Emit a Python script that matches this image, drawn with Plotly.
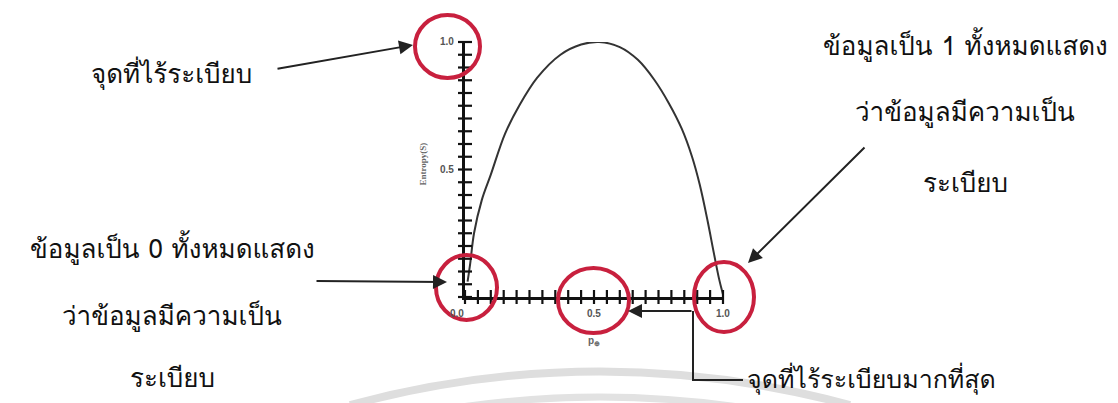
import plotly.graph_objects as go

W, H = 1118, 403

# ---- data ----
p_pos = [0.01, 0.02, 0.035, 0.065, 0.10, 0.155, 0.21, 0.28, 0.37, 0.45, 0.52,
         0.60, 0.67, 0.735, 0.79, 0.84, 0.88, 0.91, 0.94, 0.965, 0.985, 1.0]
entropy = [0.06, 0.13, 0.25, 0.38, 0.48, 0.64, 0.75, 0.86, 0.95, 0.99, 1.0,
           0.98, 0.93, 0.85, 0.76, 0.66, 0.55, 0.44, 0.30, 0.17, 0.07, 0.01]
tick_vals = [0.0, 0.05, 0.1, 0.15, 0.2, 0.25, 0.3, 0.35, 0.4, 0.45, 0.5,
             0.55, 0.6, 0.65, 0.7, 0.75, 0.8, 0.85, 0.9, 0.95, 1.0]
x_tick_labels = ["0.0", "0.5", "1.0"]
y_tick_labels = ["0.5", "1.0"]
x_title = "p<sub>⊕</sub>"
y_title = "Entropy(S)"

label_top_left = "จุดที่ไร้ระเบียบ"
label_right = ["ข้อมูลเป็น 1 ทั้งหมดแสดง", "ว่าข้อมูลมีความเป็น", "ระเบียบ"]
label_left = ["ข้อมูลเป็น 0 ทั้งหมดแสดง", "ว่าข้อมูลมีความเป็น", "ระเบียบ"]
label_bottom = "จุดที่ไร้ระเบียบมากที่สุด"


def px(x):
    return x / W


def py(y):
    return 1 - y / H


THAI = "Norasi, Kinnari, 'TH Sarabun New', Garuda, Loma, 'Noto Serif Thai', 'Noto Sans Thai', 'DejaVu Serif', serif"
RED = "rgb(200,32,62)"
INK = "#222222"

fig = go.Figure()

fig.add_trace(go.Scatter(x=p_pos, y=entropy, mode="lines", line_shape="spline",
                         line=dict(color="#333333", width=2), hoverinfo="skip"))
fig.add_trace(go.Scatter(x=tick_vals, y=[0] * len(tick_vals), mode="markers",
                         marker=dict(symbol="line-ns", size=10, line=dict(width=2.2, color="#111")),
                         cliponaxis=False, hoverinfo="skip"))
fig.add_trace(go.Scatter(x=[0] * len(tick_vals), y=tick_vals, mode="markers",
                         marker=dict(symbol="line-ew", size=10, line=dict(width=2.2, color="#111")),
                         cliponaxis=False, hoverinfo="skip"))

ann = []
# axis tick labels
for v, t in zip([0.0, 0.5, 1.0], x_tick_labels):
    ann.append(dict(x=v, y=0, xref="x", yref="y", text="<b>" + t + "</b>", showarrow=False,
                    yshift=-16, xshift=-8 if v == 0 else 0,
                    font=dict(family="Liberation Sans", size=10, color="#555")))
for v, t in zip([0.5, 1.0], y_tick_labels):
    ann.append(dict(x=0, y=v, xref="x", yref="y", text="<b>" + t + "</b>", showarrow=False,
                    xshift=-18, font=dict(family="Liberation Sans", size=10, color="#555")))
ann.append(dict(x=0.5, y=0, xref="x", yref="y", text="<b>" + x_title + "</b>", showarrow=False,
                yshift=-44, font=dict(family="Liberation Sans", size=10, color="#666")))
ann.append(dict(x=0, y=0.5, xref="x", yref="y", text="<b>" + y_title + "</b>", showarrow=False,
                xshift=-43, yshift=5, textangle=-90,
                font=dict(family="Liberation Serif", size=9, color="#666")))

# Thai labels
def thai(x, y, text, size=26):
    ann.append(dict(x=px(x), y=py(y), xref="paper", yref="paper", text=text, showarrow=False,
                    xanchor="center", yanchor="middle",
                    font=dict(family=THAI, size=size, color="#111")))

thai(171, 74, label_top_left)
for yy, t in zip([45, 112, 183], label_right):
    thai(965, yy, t)
for yy, t in zip([248, 315, 377], label_left):
    thai(172, yy, t)
ann.append(dict(x=px(745), y=py(379), xref="paper", yref="paper", text=label_bottom,
                showarrow=False, xanchor="left", yanchor="middle",
                font=dict(family=THAI, size=25, color="#111")))

# arrows (tip, tail) in pixels
arrows = [((413, 45), (276, 69)), ((447, 282), (315, 281)),
          ((748, 263), (866, 146)), ((628, 311), (693, 311))]
for (tx, ty), (sx, sy) in arrows:
    ann.append(dict(x=px(tx), y=py(ty), xref="paper", yref="paper", text="",
                    showarrow=True, ax=sx - tx, ay=sy - ty, axref="pixel", ayref="pixel",
                    arrowhead=2, arrowsize=1.4, arrowwidth=2, arrowcolor=INK, standoff=0))

shapes = []
# watermark arcs
shapes.append(dict(type="path", xref="paper", yref="paper",
                   path=f"M {px(350)} {py(405)} Q {px(600)} {py(338)} {px(850)} {py(405)}",
                   line=dict(color="rgb(222,222,222)", width=8)))
shapes.append(dict(type="path", xref="paper", yref="paper",
                   path=f"M {px(430)} {py(412)} Q {px(600)} {py(382)} {px(770)} {py(412)}",
                   line=dict(color="rgb(226,226,226)", width=7)))
# elbow connector
shapes.append(dict(type="path", xref="paper", yref="paper",
                   path=f"M {px(693)} {py(311)} L {px(693)} {py(380)} L {px(743)} {py(380)}",
                   line=dict(color=INK, width=2)))
# red circles (pixel boxes)
for x0, x1, y0, y1 in [(415, 480, 15, 78), (436, 497, 255, 320),
                       (558, 629, 268, 333), (694, 754, 262, 332)]:
    shapes.append(dict(type="circle", xref="paper", yref="paper",
                       x0=px(x0), x1=px(x1), y0=py(y1), y1=py(y0),
                       line=dict(color=RED, width=4)))

fig.update_layout(
    width=W, height=H, margin=dict(l=0, r=0, t=0, b=0),
    paper_bgcolor="white", plot_bgcolor="rgba(0,0,0,0)", showlegend=False,
    xaxis=dict(domain=[px(465), px(723)], range=[0, 1], showgrid=False, zeroline=False,
               showline=True, linewidth=3, linecolor="#111", showticklabels=False, ticks=""),
    yaxis=dict(domain=[py(297), py(42)], range=[0, 1], showgrid=False, zeroline=False,
               showline=True, linewidth=3, linecolor="#111", showticklabels=False, ticks=""),
    annotations=ann, shapes=shapes,
)

fig.write_html("out.html", config={"displayModeBar": False},
               post_script="document.body.style.margin='0';")
